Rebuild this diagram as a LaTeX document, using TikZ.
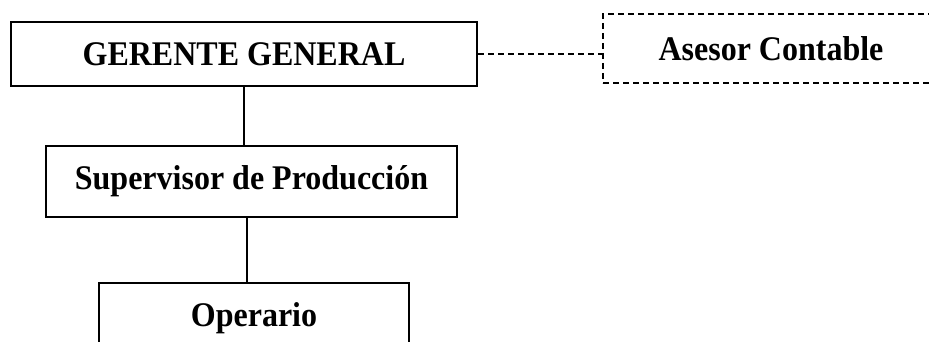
\documentclass[tikz,border=0pt]{standalone}
\usepackage{fontspec}
\setmainfont{Liberation Serif}
\newcommand{\tallt}[1]{\scalebox{1}[1.08]{#1}}
\begin{document}
\begin{tikzpicture}[x=1pt,y=-1pt,
  box/.style={draw, line width=2pt, inner sep=0pt, font=\bfseries\fontsize{32}{38}\selectfont},
  dbox/.style={box, dash pattern=on 6pt off 4pt},
  link/.style={line width=2pt},
  dlink/.style={line width=1.6pt, dash pattern=on 6pt off 4pt}]
\useasboundingbox (0,0) rectangle (929,342);
\clip (0,0) rectangle (929,342);
\node[box, minimum width=466pt, minimum height=64pt] (g) at (244,54) {\tallt{GERENTE GENERAL}};
\node[dbox, minimum width=336pt, minimum height=69pt] (a) at (771,48.5) {\tallt{Asesor Contable}};
\node[box, minimum width=411pt, minimum height=71pt] (s) at (251.5,181.5) {\tallt{Supervisor de Producción}};
\node[box, minimum width=310pt, minimum height=70pt] (o) at (254,318) {\tallt{Operario}};
\draw[link] (g.south) -- (g.south |- s.north);
\coordinate (c) at (247,0);
\draw[link] (s.south -| c) -- (o.north -| c);
\draw[dlink] (g.east) -- (g.east -| a.west);
\end{tikzpicture}
\end{document}
